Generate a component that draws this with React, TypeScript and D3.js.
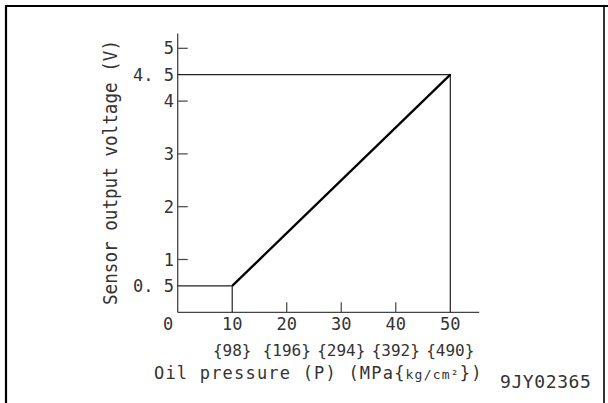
import React, { useEffect, useRef } from 'react';
import * as d3 from 'd3';

// ==== data

const pressureMPa = [10, 50];
const outputVoltage = [0.5, 4.5];

const xTickValues = [10, 20, 30, 40, 50];
const xTickKg = ['{98}', '{196}', '{294}', '{392}', '{490}'];
const xMinorTicks = [20, 30, 40];

const yTickValues = [0.5, 1, 2, 3, 4, 4.5, 5];
const yTickLabels = ['0. 5', '1', '2', '3', '4', '4. 5', '5'];
const yMinorTicks = [1, 2, 3, 4, 5];

const figureCode = '9JY02365';

// ====

const W = 608;
const H = 403;
const FONT = '"DejaVu Sans Mono", monospace';

function App() {
    const node = useRef<SVGSVGElement>(null);

    useEffect(() => {
        const svg = d3.select(node.current);
        svg.selectAll('*').remove();

        const x = d3.scaleLinear().domain([0, 50]).range([177.7, 450.3]);
        const y = d3.scaleLinear().domain([0, 5]).range([312.3, 48.3]);

        // frame
        svg.append('path')
            .attr('d', `M6,${H} L6,6 L${W},6`)
            .attr('fill', 'none')
            .attr('stroke', '#000')
            .attr('stroke-width', 2.2);
        svg.append('line')
            .attr('x1', 604).attr('x2', 604)
            .attr('y1', 6).attr('y2', H)
            .attr('stroke', '#000')
            .attr('stroke-width', 1.6);

        const g = svg.append('g');

        // axes
        g.append('line')
            .attr('x1', x(0)).attr('x2', x(0))
            .attr('y1', y(0)).attr('y2', y(5.28))
            .attr('stroke', '#444').attr('stroke-width', 1.3);
        g.append('line')
            .attr('x1', x(0)).attr('x2', x(55.3))
            .attr('y1', y(0)).attr('y2', y(0))
            .attr('stroke', '#444').attr('stroke-width', 1.3);

        g.selectAll('.ytick')
            .data(yMinorTicks)
            .enter()
            .append('line')
            .attr('class', 'ytick')
            .attr('x1', x(0)).attr('x2', x(0) + 10)
            .attr('y1', (d) => y(d)).attr('y2', (d) => y(d))
            .attr('stroke', '#444').attr('stroke-width', 1.2);

        g.selectAll('.xtick')
            .data(xMinorTicks)
            .enter()
            .append('line')
            .attr('class', 'xtick')
            .attr('x1', (d) => x(d)).attr('x2', (d) => x(d))
            .attr('y1', y(0)).attr('y2', y(0) - 10)
            .attr('stroke', '#444').attr('stroke-width', 1.2);

        // guide lines to the two end points
        const p0 = [x(pressureMPa[0]), y(outputVoltage[0])];
        const p1 = [x(pressureMPa[1]), y(outputVoltage[1])];
        g.append('path')
            .attr('d', `M${x(0)},${p0[1]} H${p0[0]} V${y(0)} M${x(0)},${p1[1]} H${p1[0]} V${y(0)}`)
            .attr('fill', 'none')
            .attr('stroke', '#222')
            .attr('stroke-width', 1.2);

        // characteristic
        const line = d3.line<number>()
            .x((d, i) => x(pressureMPa[i]))
            .y((d) => y(d));
        g.append('path')
            .datum(outputVoltage)
            .attr('d', line)
            .attr('fill', 'none')
            .attr('stroke', '#000')
            .attr('stroke-width', 2.3);

        // tick labels
        const labels = g.append('g')
            .style('font-family', FONT)
            .style('fill', '#333');

        labels.selectAll('.ylab')
            .data(yTickValues)
            .enter()
            .append('text')
            .attr('class', 'ylab')
            .attr('x', 174)
            .attr('y', (d) => y(d))
            .attr('dy', '0.36em')
            .attr('text-anchor', 'end')
            .style('font-size', '17px')
            .text((d, i) => yTickLabels[i]);

        labels.append('text')
            .attr('x', 168)
            .attr('y', 330)
            .attr('text-anchor', 'middle')
            .style('font-size', '17px')
            .text('0');

        labels.selectAll('.xlab')
            .data(xTickValues)
            .enter()
            .append('text')
            .attr('class', 'xlab')
            .attr('x', (d) => x(d))
            .attr('y', 330)
            .attr('text-anchor', 'middle')
            .style('font-size', '17px')
            .text((d) => d);

        labels.selectAll('.xkg')
            .data(xTickValues)
            .enter()
            .append('text')
            .attr('class', 'xkg')
            .attr('x', (d) => x(d))
            .attr('y', 356)
            .attr('text-anchor', 'middle')
            .style('font-size', '16px')
            .text((d, i) => xTickKg[i]);

        // axis titles
        const xTitle = labels.append('text')
            .attr('x', 154)
            .attr('y', 379)
            .style('font-size', '17px')
            .style('letter-spacing', '1.2px');
        xTitle.append('tspan').text('Oil pressure (P) (MPa');
        xTitle.append('tspan').text('{');
        xTitle.append('tspan').style('font-size', '13px').text('kg/cm²');
        xTitle.append('tspan').text('})');

        labels.append('text')
            .attr('transform', 'translate(116.5,172.5) rotate(-90)')
            .attr('text-anchor', 'middle')
            .attr('textLength', 265)
            .attr('lengthAdjust', 'spacingAndGlyphs')
            .style('font-size', '19px')
            .text('Sensor output voltage (V)');

        labels.append('text')
            .attr('x', 500)
            .attr('y', 388)
            .style('font-size', '18px')
            .style('letter-spacing', '0.6px')
            .text(figureCode);
    }, []);

    return (
        <svg
            ref={node}
            width={W}
            height={H}
            style={{ position: 'absolute', left: 0, top: 0, background: '#fff' }}>
        </svg>
    );
}

// ====

export default App;
